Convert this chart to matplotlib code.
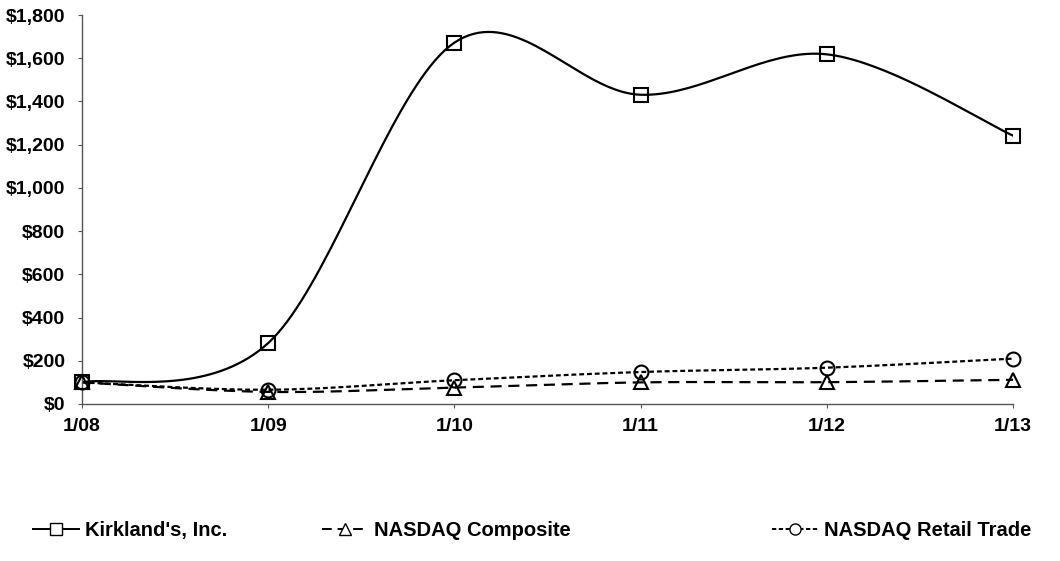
import numpy as np
import matplotlib.pyplot as plt
from matplotlib.lines import Line2D

# dane
periods = ["1/08", "1/09", "1/10", "1/11", "1/12", "1/13"]
kirklands = [100, 282, 1672, 1431, 1618, 1242]
nasdaq_composite = [100, 56, 76, 100, 101, 112]
nasdaq_retail = [100, 66, 110, 148, 168, 210]

y_ticks = [0, 200, 400, 600, 800, 1000, 1200, 1400, 1600, 1800]

plt.rcParams['font.family'] = ['Liberation Sans', 'DejaVu Sans']
plt.rcParams['font.weight'] = 'bold'


def smooth(xs, ys, n=40):
    # wygladzanie jak w Excelu (krzywe Beziera przez punkty)
    p = np.column_stack([xs, ys]).astype(float)
    pts = np.vstack([p[0], p, p[-1]])
    out = []
    for i in range(1, len(pts) - 2):
        p0, p1, p2, p3 = pts[i - 1], pts[i], pts[i + 1], pts[i + 2]
        c1 = p1 + (p2 - p0) / 6
        c2 = p2 - (p3 - p1) / 6
        t = np.linspace(0, 1, n)[:, None]
        seg = ((1 - t) ** 3 * p1 + 3 * (1 - t) ** 2 * t * c1
               + 3 * (1 - t) * t ** 2 * c2 + t ** 3 * p2)
        out.append(seg if i == 1 else seg[1:])
    out = np.vstack(out)
    return out[:, 0], out[:, 1]


x = np.arange(len(periods))

fig = plt.figure(figsize=(10.6, 5.61), dpi=100)
ax = fig.add_axes([82 / 1060, 157 / 561, 931 / 1060, 389 / 561])

series = [
    (kirklands, 's', '-', "Kirkland's, Inc."),
    (nasdaq_composite, '^', (0, (5, 3)), "NASDAQ Composite"),
    (nasdaq_retail, 'o', (0, (2.2, 1.3)), "NASDAQ Retail Trade"),
]

handles = []
for vals, mk, ls, lab in series:
    sx, sy = smooth(x, vals)
    ax.plot(sx, sy, color='black', linestyle=ls, linewidth=1.6, zorder=2)
    ax.plot(x, vals, linestyle='none', marker=mk, markersize=10,
            markerfacecolor='none', markeredgecolor='black',
            markeredgewidth=1.5, zorder=3, clip_on=False)
    handles.append(Line2D([], [], color='black', linestyle=ls, linewidth=1.4,
                          marker=mk, markersize=8, markerfacecolor='white',
                          markeredgecolor='black', label=lab))

ax.set_xlim(0, 5)
ax.set_ylim(0, 1800)
ax.set_xticks(x)
ax.set_xticklabels(periods)
ax.set_yticks(y_ticks)
ax.set_yticklabels(["${:,}".format(v) for v in y_ticks])
ax.tick_params(axis='both', labelsize=14, length=3, width=0.8, color='#555555')
ax.tick_params(axis='x', pad=7)
ax.tick_params(axis='y', pad=9)
for s in ['top', 'right']:
    ax.spines[s].set_visible(False)
for s in ['left', 'bottom']:
    ax.spines[s].set_color('#555555')
    ax.spines[s].set_linewidth(1.0)

# legenda: trzy osobne wpisy u dolu
legend_x = [33, 322, 772]
for h, lx in zip(handles, legend_x):
    fig.legend(handles=[h], loc='center left', bbox_to_anchor=(lx / 1060, 0.055),
               frameon=False, fontsize=14.5, handlelength=2.3, handletextpad=0.3,
               borderpad=0, borderaxespad=0)

plt.savefig("out.png", dpi=100)
